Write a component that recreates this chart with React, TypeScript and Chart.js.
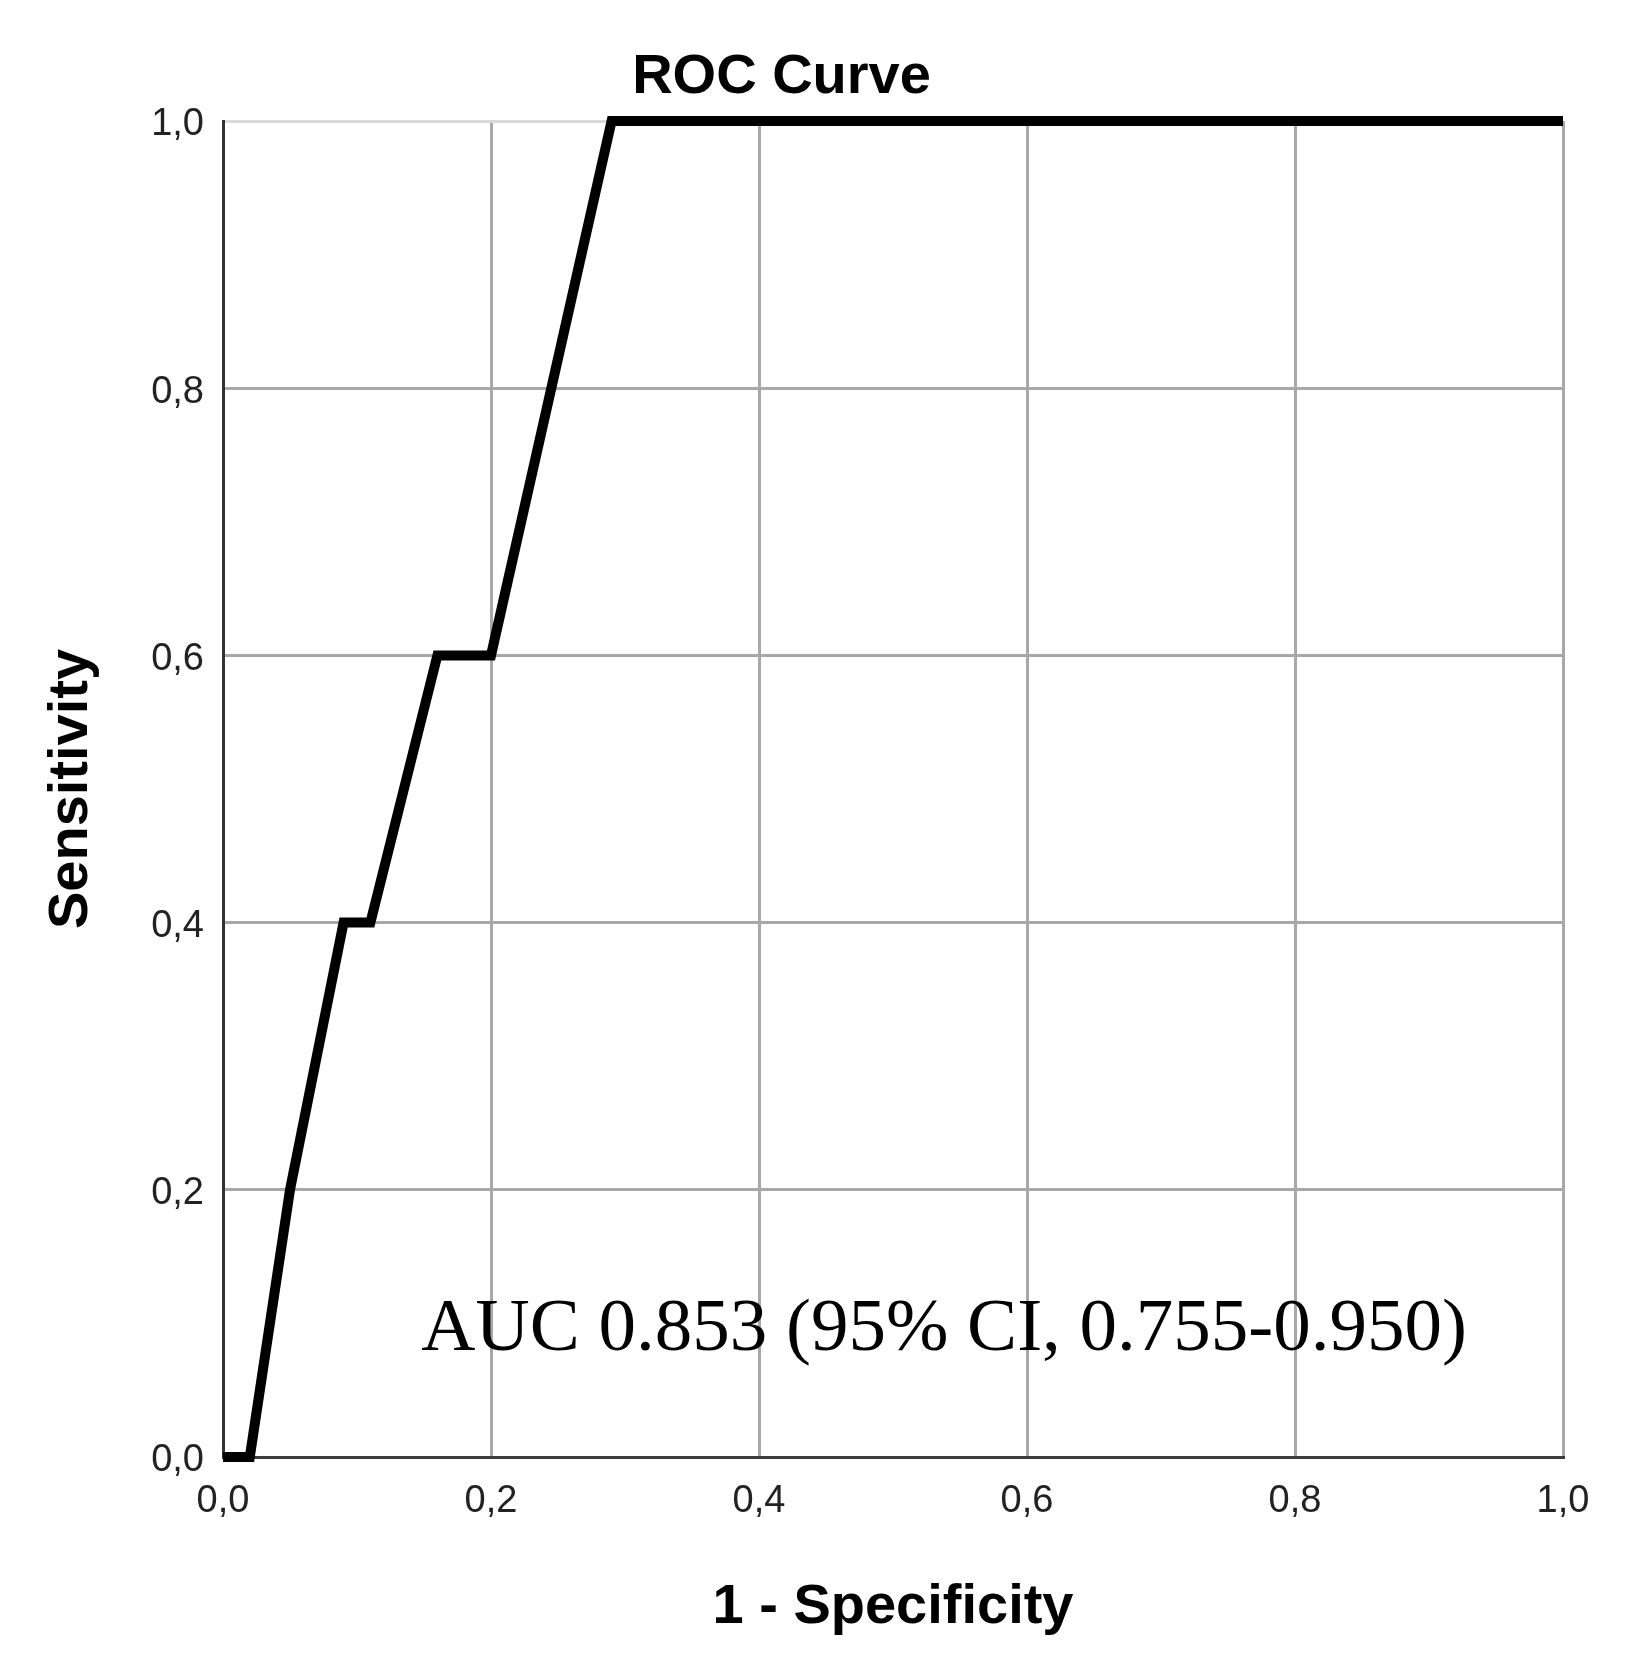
import React, { useEffect, useRef } from "react";
import { Chart, registerables } from "chart.js";

Chart.register(...registerables);

// ROC curve vertices
const fpr = [0.0, 0.02, 0.05, 0.09, 0.11, 0.16, 0.2, 0.29, 1.0];
const tpr = [0.0, 0.0, 0.2, 0.4, 0.4, 0.6, 0.6, 1.0, 1.0];
const tickValues = [0, 0.2, 0.4, 0.6, 0.8, 1.0];
const titleText = "ROC Curve";
const xTitle = "1 - Specificity";
const yTitle = "Sensitivity";
const annotationText = "AUC 0.853 (95% CI, 0.755-0.950)";
const annotationPos = { x: 0.148, y: 0.08 };

const fmt = (v: number) => Number(v).toFixed(1).replace(".", ",");

export default function App() {
  const ref = useRef<HTMLCanvasElement | null>(null);

  useEffect(() => {
    if (!ref.current) return;
    const annotate = {
      id: "aucText",
      afterDatasetsDraw(chart: any) {
        const { ctx, scales } = chart;
        const px = scales.x.getPixelForValue(annotationPos.x);
        const py = scales.y.getPixelForValue(annotationPos.y);
        ctx.save();
        ctx.font = "75px 'Liberation Serif', 'DejaVu Serif', serif";
        ctx.fillStyle = "#000";
        ctx.textAlign = "left";
        ctx.textBaseline = "alphabetic";
        ctx.fillText(annotationText, px, py);
        ctx.restore();
      },
    };
    const chart = new Chart(ref.current, {
      type: "line",
      data: {
        datasets: [
          {
            label: "ROC",
            data: fpr.map((x, i) => ({ x, y: tpr[i] })),
            borderColor: "#000",
            borderWidth: 10,
            pointRadius: 0,
            fill: false,
            tension: 0,
            borderJoinStyle: "miter",
            borderCapStyle: "butt",
            clip: false as any,
          },
        ],
      },
      options: {
        animation: false,
        responsive: false,
        devicePixelRatio: 1,
        layout: { padding: { left: 0, right: 74, top: 0, bottom: 0 } },
        plugins: {
          legend: { display: false },
          tooltip: { enabled: false },
          title: {
            display: true,
            text: titleText,
            color: "#000",
            font: { family: "'Liberation Sans', Arial, sans-serif", size: 56, weight: "bold", lineHeight: 1.2 },
            padding: { top: 43.5, bottom: 10.3 },
          },
        },
        scales: {
          x: {
            type: "linear",
            min: 0,
            max: 1,
            afterFit(scale: any) {
              scale.height = 207;
            },
            afterBuildTicks(scale: any) {
              scale.ticks = tickValues.map((v) => ({ value: v }));
            },
            ticks: {
              callback: (v: any) => fmt(v),
              color: "#222",
              font: { family: "'Liberation Sans', Arial, sans-serif", size: 38 },
              padding: 22,
              maxRotation: 0,
            },
            grid: {
              color: "#a8a8a8",
              lineWidth: 3,
              drawTicks: false,
            },
            border: { display: true, color: "#3c3c3c", width: 3 },
            title: {
              display: true,
              text: xTitle,
              color: "#000",
              font: { family: "'Liberation Sans', Arial, sans-serif", size: 56, weight: "bold", lineHeight: 1.2 },
              padding: { top: 0, bottom: 23 },
            },
          },
          y: {
            type: "linear",
            min: 0,
            max: 1,
            afterFit(scale: any) {
              scale.width = 223;
            },
            afterBuildTicks(scale: any) {
              scale.ticks = tickValues.map((v) => ({ value: v }));
            },
            ticks: {
              callback: (v: any) => fmt(v),
              color: "#222",
              font: { family: "'Liberation Sans', Arial, sans-serif", size: 38 },
              padding: 19,
              labelOffset: 4,
            },
            grid: {
              color: (c: any) => (c.tick && c.tick.value === 1 ? "#d9d9d9" : "#a8a8a8"),
              lineWidth: 3,
              drawTicks: false,
            },
            border: { display: true, color: "#333", width: 3 },
            title: {
              display: true,
              text: yTitle,
              color: "#000",
              font: { family: "'Liberation Sans', Arial, sans-serif", size: 56, weight: "bold", lineHeight: 1.2 },
              padding: { top: 38.4, bottom: 0 },
            },
          },
        },
      } as any,
      plugins: [annotate],
    });
    return () => chart.destroy();
  }, []);

  return (
    <div style={{ position: "absolute", left: 0, top: 0, width: 1637, height: 1664, background: "#fff" }}>
      <canvas ref={ref} width={1637} height={1664} style={{ display: "block", width: 1637, height: 1664 }} />
    </div>
  );
}
